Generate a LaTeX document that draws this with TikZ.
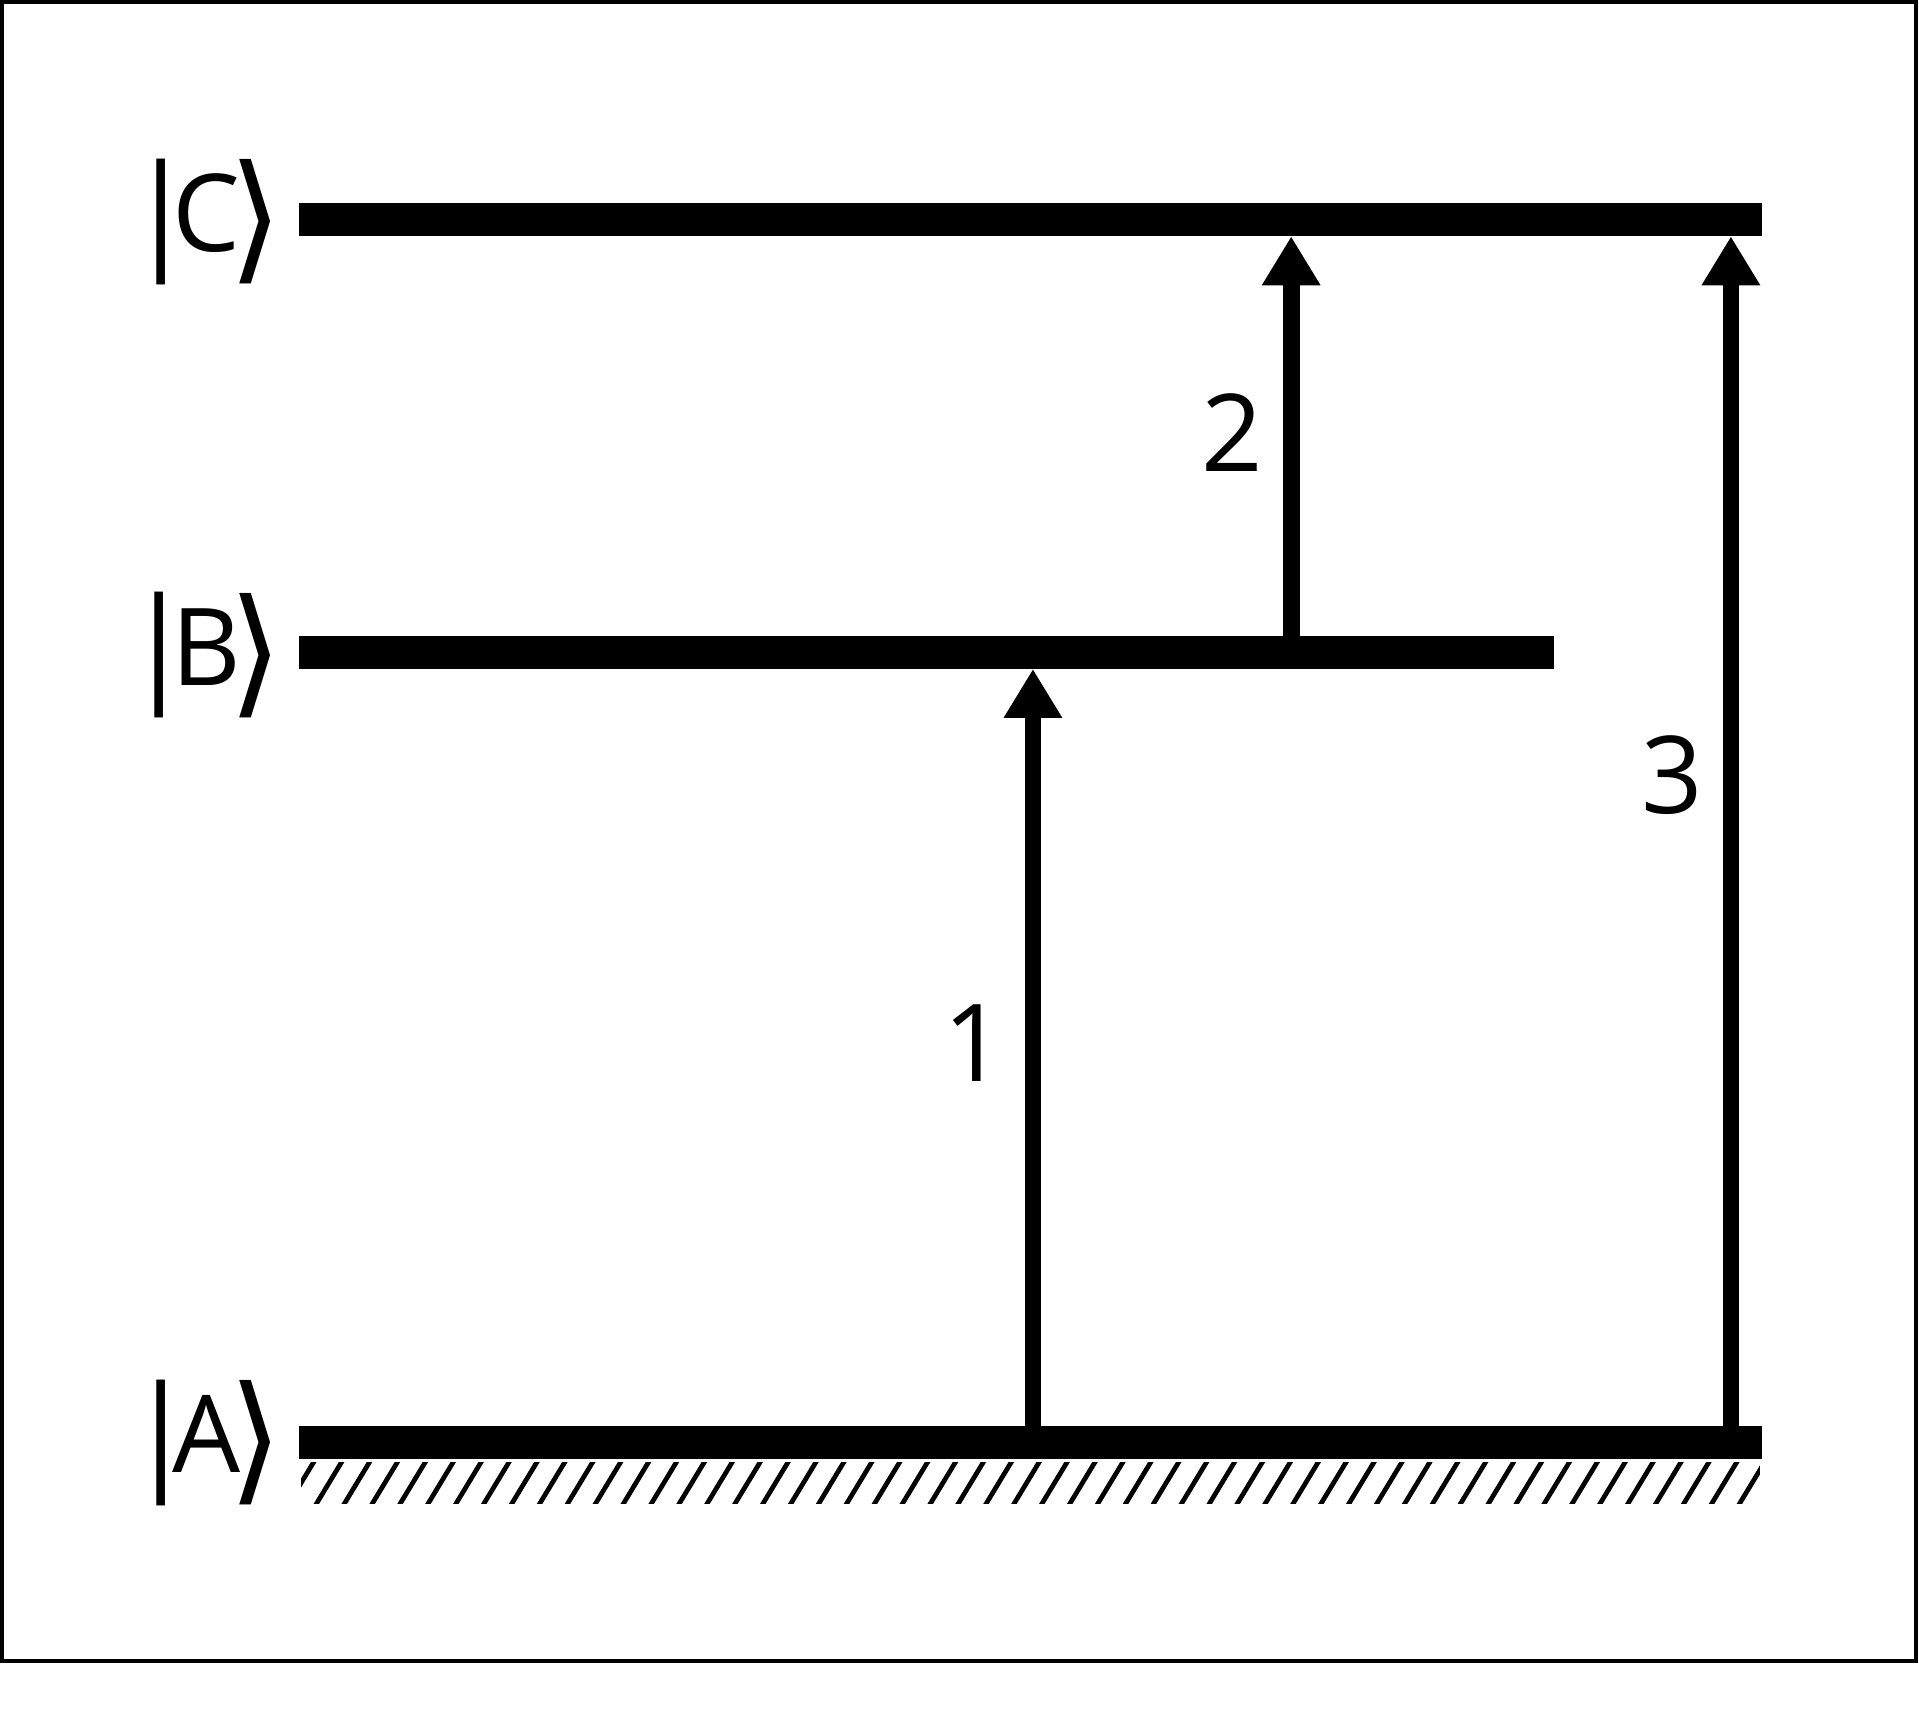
\documentclass[tikz,border=0pt]{standalone}
\usepackage{fontspec}
\setmainfont{Open Sans}
\newfontfamily\bracketfont{DejaVu Sans}
\usepackage{tikz}
\usetikzlibrary{
  calc,
  positioning,
  arrows.meta
}
\newcommand{\levket}[1]{%
  \raisebox{-0.02cm}{\fontsize{29.2}{30}\selectfont|}\kern-0.185cm
  #1\kern-0.1cm
  \raisebox{-0.115cm}{\bracketfont\fontsize{32.5}{34}\selectfont ⟩}}

\begin{document}
\begin{tikzpicture}[
    statebar/.style={fill=black, inner sep=0pt, outer sep=0pt, minimum height=0.27cm, anchor=west},
    trans/.style={-{Triangle[length=0.4cm,width=0.45cm]}, line width=0.136cm},
    ketnode/.style={font=\fontsize{25}{30}\selectfont, inner sep=0pt, anchor=base east},
    num/.style={font=\fontsize{25}{30}\selectfont, inner sep=0pt},
    hatchline/.style={line width=1.1pt}
  ]
      \useasboundingbox (0,0) rectangle (15.68,14.144);
      \draw[line width=0.93pt] (0.015,0.57) rectangle (15.655,14.125);

      % levels
      \node[statebar, minimum width=11.955cm] (levA) at (2.445,2.354) {};
      \node[statebar, minimum width=10.255cm] (levB) at (2.445,8.813) {};
      \node[statebar, minimum width=11.955cm] (levC) at (2.445,12.348) {};

      % kets
      \node[ketnode] (ketA) at ($(levA.west)+(-0.125,-0.245)$) {\levket{A}};
      \node[ketnode] (ketB) at ($(levB.west)+(-0.125,-0.27)$) {\levket{B}};
      \node[ketnode] (ketC) at ($(levC.west)+(-0.125,-0.26)$) {\levket{C}};

      % ground hatching under A
      \begin{scope}
        \clip ($(levA.south west)+(0.015,-0.359)$) rectangle ($(levA.south east)+(-0.02,-0.023)$);
        \foreach \k in {-1,...,51}
          \draw[hatchline] ($(2.557,1.81)+(0.228*\k,0)$) -- ++(0.26,0.43);
      \end{scope}

      % transitions
      \coordinate (x1) at (8.44,0);
      \coordinate (x2) at (10.55,0);
      \coordinate (x3) at (14.143,0);
      \draw[trans] (levA.north -| x1) -- node[num, pos=0.506, left=0.163cm] (num1) {1} (levB.south -| x1);
      \draw[trans] (levB.north -| x2) -- node[num, pos=0.51, left=0.163cm] (num2) {2} (levC.south -| x2);
      \draw[trans] (levA.north -| x3) -- node[num, pos=0.547, left=0.163cm] (num3) {3} (levC.south -| x3);
\end{tikzpicture}
\end{document}
